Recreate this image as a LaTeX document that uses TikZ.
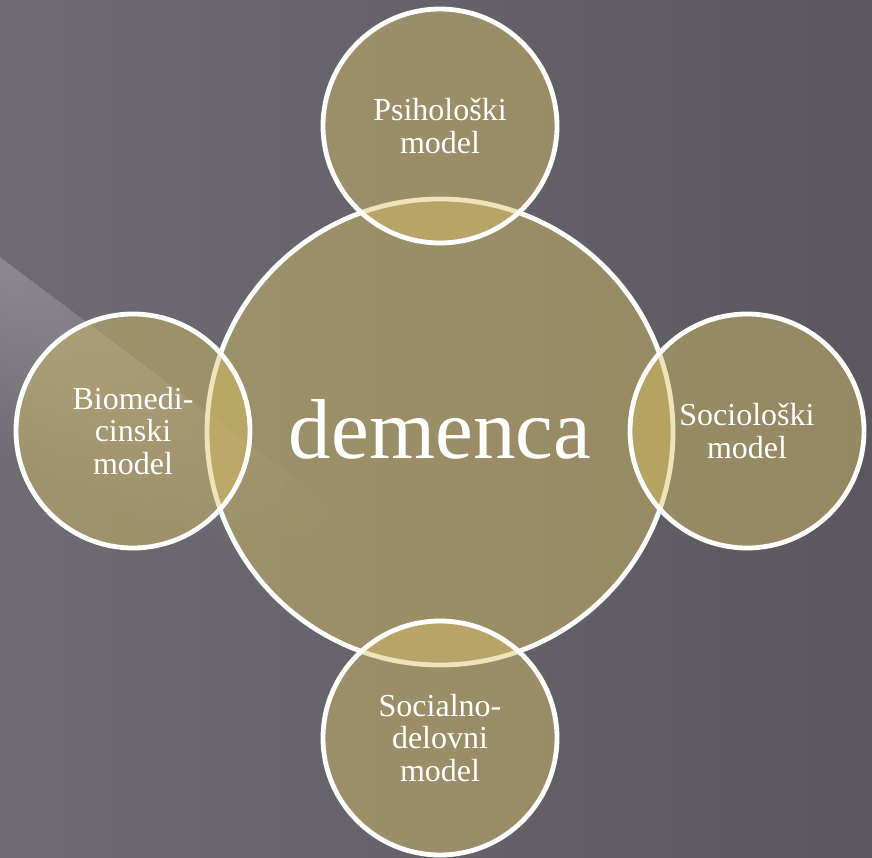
\documentclass[tikz,border=0pt]{standalone}
\usepackage{fontspec}
\setmainfont{Liberation Serif}
\definecolor{bgL}{RGB}{110,108,114}
\definecolor{bgR}{RGB}{90,88,94}
\definecolor{disc}{RGB}{220,194,102}
\begin{document}
\begin{tikzpicture}[x=1pt,y=-1pt,
  bubble/.style={circle, draw=white, line width=4.8pt, fill=disc, fill opacity=0.45,
    draw opacity=1, text opacity=1, text=white, inner sep=0pt, align=center,
    font=\fontsize{32}{32.5}\selectfont},
  smallc/.style={bubble, minimum size=234pt},
  bigc/.style={bubble, minimum size=466pt, font=\fontsize{85}{86}\selectfont}]
\useasboundingbox (0,0) rectangle (872,858);
\shade[left color=bgL, right color=bgR] (0,0) rectangle (872,858);
% light streak
\begin{scope}
  \clip (0,257) -- (480,617) -- (480,858) -- (0,858) -- cycle;
  \begin{scope}[shift={(-20,242)}, rotate=-37]
    \foreach \k in {1,...,30}
      \fill[white, fill opacity=0.0105] (0,0) ellipse ({\k*15pt} and {\k*5.5pt});
  \end{scope}
\end{scope}
\node[bigc] (dem) at (440,432) {\raisebox{6pt}{demenca}};
\node[smallc] (psi) at (440,126) {Psihološki\\model};
\node[smallc] (bio) at (133,431) {Biomedi-\\cinski\\model};
\node[smallc] (soc) at (747,431) {Sociološki\\model};
\node[smallc] (sd) at (440,738) {Socialno-\\delovni\\model};
\end{tikzpicture}
\end{document}
